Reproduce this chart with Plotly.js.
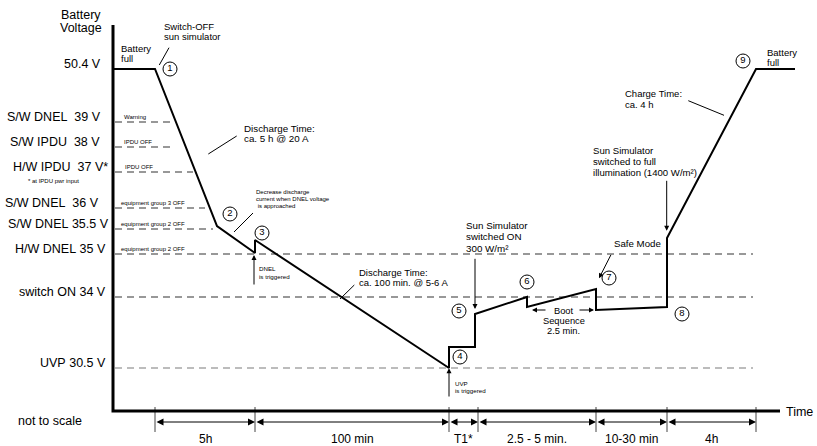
<!DOCTYPE html>
<html><head><meta charset="utf-8">
<script src="https://cdn.plot.ly/plotly-3.0.1.min.js"></script>
<style>html,body{margin:0;padding:0;background:#fff}#chart{width:817px;height:446px}</style>
</head><body><div id="chart"></div>
<script>
// ---------------- data (schematic, "not to scale" units) ----------------
const levelLabels = ['50.4 V', 'S/W DNEL\u00a0\u00a039 V', 'S/W IPDU\u00a0\u00a038 V', 'H/W IPDU\u00a0\u00a037 V*',
  'S/W DNEL\u00a0\u00a036 V', 'S/W DNEL\u00a035.5 V', 'H/W DNEL\u00a035 V', 'switch ON\u00a034 V', 'UVP\u00a030.5 V'];
const levelPos = [342, 289, 264, 239, 203, 182, 157, 114, 43];
const levelNotes = ['', 'Warning', 'IPDU OFF', 'IPDU OFF', 'equipment group 3 OFF', 'equipment group 2 OFF', 'equipment group 2 OFF', '', ''];
const levelLineEnd = [null, 62, 60, 80, 92, 100, 640, 640, 640];

const voltTime  = [0, 42, 104, 142, 142, 336, 336, 362, 362, 414, 414, 483, 483, 554, 554, 643, 682];
const voltLevel = [342, 342, 185, 158, 171, 43, 64, 64, 97, 114, 104, 122, 101, 104, 173, 342, 342];

const eventIds   = ['1', '2', '3', '4', '5', '6', '7', '8', '9'];
const eventTime  = [57, 117, 149, 347, 346, 414, 496, 569, 630];
const eventLevel = [342, 197, 178, 54, 100, 129, 133, 97, 350];

const phaseLabels = ['5h', '100 min', 'T1*', '2.5 - 5 min.', '10-30 min', '4h'];
const phaseBounds = [42, 142, 336, 365, 483, 554, 643];

const noteTexts = {
  axisY: ['Battery', 'Voltage'],
  axisX: 'Time',
  scale: 'not to scale',
  footnote: '* at IPDU pwr input',
  fullStart: ['Battery', 'full'],
  switchOff: ['Switch-OFF', 'sun simulator'],
  discharge1: ['Discharge Time:', 'ca. 5 h @ 20 A'],
  decrease: ['Decrease discharge', 'current when DNEL voltage', ' is approached'],
  dnel: ['DNEL', 'is triggered'],
  discharge2: ['Discharge Time:', 'ca. 100 min. @ 5-6 A'],
  uvp: ['UVP', 'is triggered'],
  sunOn: ['Sun Simulator', 'switched ON', '300 W/m\u00b2'],
  boot: ['Boot', 'Sequence', '2.5 min.'],
  safe: 'Safe Mode',
  sunFull: ['Sun Simulator', 'switched to full', 'illumination (1400 W/m\u00b2)'],
  charge: ['Charge Time:', 'ca. 4 h'],
  fullEnd: ['Battery', 'full']
};

// ---------------- layout helpers ----------------
const FONT = 'Liberation Sans, Arial, Helvetica, sans-serif';
const ann = [];
function txt(s, x, y, size, anchor, extra) {
  ann.push(Object.assign({xref: 'x', yref: 'y', x: x, y: y, text: s, showarrow: false,
    xanchor: anchor || 'left', yanchor: 'middle', borderpad: 0,
    font: {family: FONT, size: size, color: '#000'}}, extra || {}));
}
function block(lines, x, yTop, dy, size, anchor) {
  lines.forEach((s, i) => txt(s, x, yTop - i * dy, size, anchor));
}
function arrow(tail, head, size, extra) {
  ann.push(Object.assign({xref: 'x', yref: 'y', axref: 'x', ayref: 'y', x: head[0], y: head[1], ax: tail[0], ay: tail[1],
    text: '', showarrow: true, arrowhead: 2, arrowsize: size, arrowwidth: 1, arrowcolor: '#000', standoff: 0, startstandoff: 0}, extra || {}));
}

// y-axis labels
const labelEdge = [-11, -11, -12, -4, -13, -3, -6, -6, -6];
levelLabels.forEach((s, i) => txt(s, labelEdge[i], levelPos[i], 12.5, 'right', {yshift: 5}));
// notes above dashed threshold lines
const noteX = [0, 10, 10, 11, 7, 7, 7, 0, 0];
levelNotes.forEach((s, i) => { if (s) txt(s, noteX[i], levelPos[i] + 5.5, 6); });

block(noteTexts.axisY, -32.5, 396, 13, 12.5, 'center');
txt(noteTexts.axisX, 672, -1, 12.5, 'left');
txt(noteTexts.scale, -96, -10, 12.5, 'left');
txt(noteTexts.footnote, -86, 230, 6, 'left');
block(noteTexts.fullStart, 7, 363, 10, 9.5);
block(noteTexts.switchOff, 50, 385, 10, 9.5);
block(noteTexts.discharge1, 130, 283, 10, 9.8);
block(noteTexts.decrease, 142, 219, 7, 6);
block(noteTexts.dnel, 145, 142.5, 7.5, 6.2);
block(noteTexts.discharge2, 245, 139, 10, 9.5);
block(noteTexts.uvp, 341, 28, 7, 6.2);
block(noteTexts.sunOn, 352, 186, 11.5, 9.8);
block(noteTexts.boot, 450.5, 100, 10, 9.3, 'center');
txt(noteTexts.safe, 500, 168, 9.7);
block(noteTexts.sunFull, 479, 261, 11.2, 9.6);
block(noteTexts.charge, 511, 318, 11, 9.5);
block(noteTexts.fullEnd, 653, 359, 10, 9.5);

// pointer arrows
arrow([498.7, 157.7], [486, 132.7], 1);
arrow([553.7, 231.7], [553.7, 180.3], 1);
arrow([362, 153.7], [362, 102], 1);
arrow([141, 125], [141, 156], 1);
arrow([336, 13], [336, 42.7], 1);
arrow([434, 101], [419, 101], 1);
arrow([465, 101], [481, 101], 1);

// phase dimension arrows + labels under the time axis
for (let i = 0; i < phaseLabels.length; i++) {
  const a = phaseBounds[i], b = phaseBounds[i + 1];
  arrow([a, -11], [b, -11], 1.4, {arrowside: 'end+start', startarrowhead: 2, startarrowsize: 1.4});
  txt(phaseLabels[i], (a + b) / 2, -28, 12, 'center');
}

// leader lines (no heads)
const leaders = [[[56, 363.3], [46.3, 346]], [[95.3, 257], [123.7, 275]], [[121, 179], [140, 198]],
  [[227, 112], [241.3, 126]], [[575.3, 310.3], [611, 295.7]]];
const lx = [], ly = [];
leaders.forEach(s => { lx.push(s[0][0], s[1][0], null); ly.push(s[0][1], s[1][1], null); });
// tick marks at phase bounds
const tx = [], ty = [];
phaseBounds.forEach(b => { tx.push(b, b, null); ty.push(4, -21, null); });

// threshold dashed lines
const traces = [];
levelPos.forEach((y, i) => {
  if (levelLineEnd[i] === null) return;
  traces.push({x: [2, levelLineEnd[i]], y: [y, y], mode: 'lines', hoverinfo: 'skip',
    line: {color: i === 8 ? '#7a7a7a' : '#333', width: 1.1, dash: '7px,5px'}});
});
traces.push({x: lx, y: ly, mode: 'lines', line: {color: '#000', width: 1}, hoverinfo: 'skip'});
traces.push({x: tx, y: ty, mode: 'lines', line: {color: '#444', width: 1}, hoverinfo: 'skip'});
// axes
traces.push({x: [0, 0, 667], y: [386, 0, 0], mode: 'lines', line: {color: '#000', width: 3}, hoverinfo: 'skip'});
// battery voltage profile
traces.push({x: voltTime, y: voltLevel, mode: 'lines', line: {color: '#000', width: 2}, hoverinfo: 'skip'});
// event markers
traces.push({x: eventTime, y: eventLevel, mode: 'markers+text', text: eventIds, textposition: 'middle center',
  textfont: {family: FONT, size: 9.5, color: '#000'}, cliponaxis: false,
  marker: {size: 14, color: '#fff', line: {color: '#000', width: 1}}, hoverinfo: 'skip'});

const layout = {
  width: 817, height: 446, margin: {l: 0, r: 0, t: 0, b: 0},
  paper_bgcolor: '#fff', plot_bgcolor: '#fff', showlegend: false,
  xaxis: {range: [-113, 704], visible: false, fixedrange: true},
  yaxis: {range: [-35, 411], visible: false, fixedrange: true},
  annotations: ann, font: {family: FONT}
};
Plotly.newPlot('chart', traces, layout, {staticPlot: true, displayModeBar: false});
</script></body></html>
